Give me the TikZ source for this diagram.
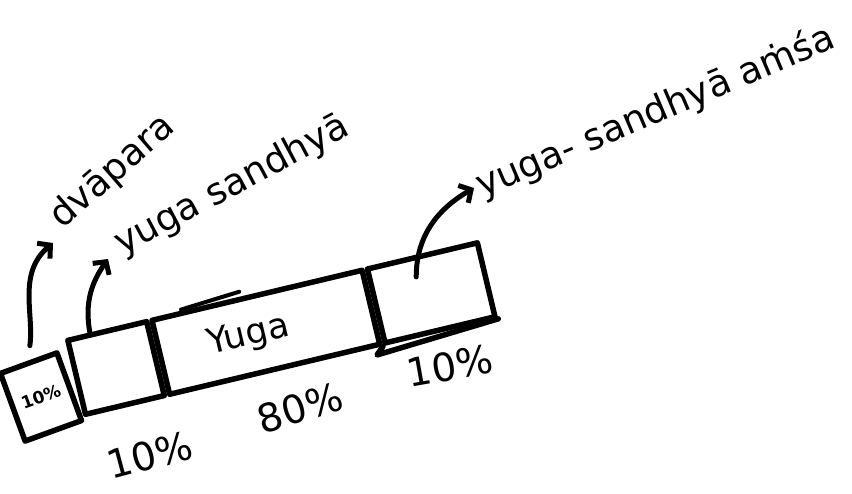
\documentclass[tikz,border=0pt]{standalone}
\usepackage{fontspec}
\setmainfont{DejaVu Sans}
\usetikzlibrary{arrows.meta,calc}
\begin{document}
\begin{tikzpicture}[x=1pt,y=1pt,
  every node/.style={font=\fontsize{37}{40}\selectfont},
  seg/.style={draw, line width=5.5pt, minimum height=76pt, inner sep=0pt, anchor=west, transform shape, line join=round},
  smallbox/.style={draw, line width=5.5pt, minimum width=60pt, minimum height=72pt, inner sep=0pt, line join=round, font=\bfseries\fontsize{17}{18}\selectfont},
  lbl/.style={anchor=base west, inner sep=0pt},
  pct/.style={inner sep=0pt, font=\fontsize{39}{42}\selectfont},
  arr/.style={line width=5pt, line cap=round, -{Straight Barb[length=9pt,width=20pt,line width=5pt]}},
  stroke/.style={line width=5.5pt, line cap=round, line join=round}
]
\useasboundingbox (0,0) rectangle (852,494);

% the bar
\begin{scope}[shift={(74,116)}, rotate=13.4]
  \node[seg, minimum width=81pt] (s1) at (0,0) {};
  \node[seg, minimum width=216pt, font=\fontsize{35}{38}\selectfont] (yg) at (s1.east) {Yuga\kern36pt\null};
  \node[seg, minimum width=113pt] (s2) at (yg.east) {};
\end{scope}

% sketch strokes
\draw[stroke, line width=4pt] ($(yg.north west)!0.15!(yg.north east)+(0,1)$) -- ($(yg.north west)!0.42!(yg.north east)+(0,5)$);
\draw[stroke] (s2.south west) -- (377,139) -- (s2.south east);

% small box
\node[smallbox, rotate=20] (sb) at (41,97) {10\%};

% labels
\node[lbl, rotate=41] (dv) at (62,264) {dvāpara};
\node[lbl, rotate=28] (ys) at (122,238) {yuga sandhyā};
\node[lbl, rotate=23] (ysa) at (482,296) {yuga- sandhyā aṁśa};

% arrows
\draw[arr, shorten <=15pt] (sb.north) to[out=82, in=220] ($(dv.base west)+(-9,-13)$);
\draw[arr] ($(s1.north west)!0.3!(s1.north east)$) to[out=100, in=235] ($(ys.base west)+(-14,-3)$);
\draw[arr] ($(s2.center)+(-15,16)$) to[out=90, in=210] ($(ysa.base west)+(-8,10)$);

% percentages
\node[pct, rotate=15] (p1) at (150,39) {10\%};
\node[pct, rotate=17] (p2) at (300,86) {80\%};
\node[pct, rotate=10] (p3) at (450,128) {10\%};
\end{tikzpicture}
\end{document}
